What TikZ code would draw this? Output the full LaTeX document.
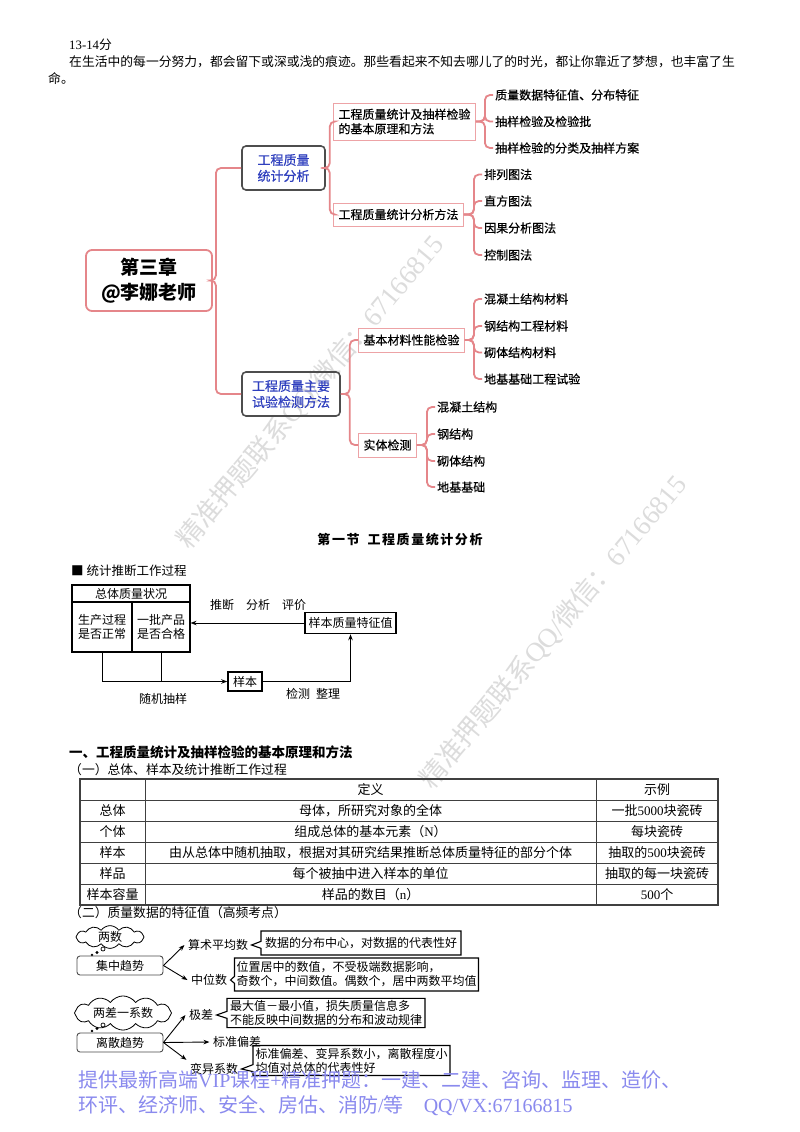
\documentclass[tikz,border=0pt]{standalone}
\usepackage{fontspec}
\setmainfont{Liberation Serif}
\newfontfamily\cjk{Noto Sans CJK SC}
\newfontfamily\cjkm[FakeBold=0.5]{Noto Sans CJK SC}
\usetikzlibrary{arrows.meta,shapes.symbols,shapes.callouts}
\definecolor{pinkline}{HTML}{E5868A}
\definecolor{pinkbox}{HTML}{EDA3A6}
\definecolor{boxgray}{HTML}{4D4D4D}
\definecolor{bluetxt}{HTML}{2F3FBE}
\definecolor{footerc}{HTML}{8A8AEE}
\definecolor{wmc}{HTML}{DCDCDC}
\newcommand{\Lat}[1]{{\rmfamily #1}}
\begin{document}
\begin{tikzpicture}[x=1pt,y=-1pt,
  font=\cjk\fontsize{12}{14.5}\selectfont,
  conn/.style={draw=pinkline,line width=1.8pt,rounded corners=5pt},
  leaf/.style={anchor=west,inner sep=2pt,font=\cjkm\fontsize{12}{14.5}\selectfont},
  sbox/.style={draw=pinkbox,line width=0.9pt,anchor=west,align=left,inner xsep=5pt,inner ysep=2pt,font=\cjkm\fontsize{12}{14.5}\selectfont},
  mbox/.style={draw=boxgray,line width=1.6pt,rounded corners=4pt,text=bluetxt,align=center,font=\cjkm\fontsize{13}{16}\selectfont},
  fbox/.style={draw,line width=1.1pt,align=center,inner sep=1pt},
  arr/.style={-{Stealth[length=6pt,width=4.5pt]},line width=0.9pt},
  callnode/.style={rectangle callout,draw,line width=1.1pt,align=left,inner sep=2pt,callout pointer width=7pt,font=\cjk\fontsize{12}{14}\selectfont},
  cloudn/.style={cloud,draw,line width=0.8pt,cloud puffs=12,cloud puff arc=110,aspect=3.6,inner sep=0pt},
  wm/.style={text=wmc,rotate=50,anchor=east,font=\cjk\fontsize{27}{27}\selectfont},
  tline/.style={line width=0.9pt,black!75},
  tcell/.style={font=\cjk\fontsize{13}{15}\selectfont,inner sep=0pt},
  rbox/.style={draw=black!70,line width=0.9pt,rounded corners=3pt,minimum width=86pt,minimum height=19pt}
]
\fill[white] (0,0) rectangle (800,1132);
\useasboundingbox (0,0) rectangle (800,1132);

% watermarks
\node[wm] (wm1) at (440,237) {精准押题联系\Lat{QQ/}微信：\Lat{67166815}};
\node[wm] (wm2) at (683,477) {精准押题联系\Lat{QQ/}微信：\Lat{67166815}};

% top text
\node[anchor=west,inner sep=0pt,font=\cjk\fontsize{12.8}{15}\selectfont] (t0) at (69,45) {\Lat{13-14}分};
\node[anchor=west,inner sep=0pt,font=\cjk\fontsize{12.8}{15}\selectfont] (t1) at (69,62) {在生活中的每一分努力，都会留下或深或浅的痕迹。那些看起来不知去哪儿了的时光，都让你靠近了梦想，也丰富了生};
\node[anchor=west,inner sep=0pt,font=\cjk\fontsize{12.8}{15}\selectfont] (t2) at (48,79) {命。};

% mind map
\node[draw=pinkline,line width=1.8pt,rounded corners=6pt,minimum width=126pt,minimum height=61pt,align=center,font=\cjk\bfseries\fontsize{19}{25}\selectfont] (root) at (149,280.5) {第三章\\@李娜老师};
\node[mbox,minimum width=83pt,minimum height=44pt] (A) at (283.5,168) {工程质量\\统计分析};
\node[mbox,minimum width=98pt,minimum height=44pt] (B) at (291,394) {工程质量主要\\试验检测方法};
\node[sbox,minimum height=37pt] (A1) at (333,121.5) {工程质量统计及抽样检验\\的基本原理和方法};
\node[sbox,minimum height=23pt] (A2) at (333,214.5) {工程质量统计分析方法};
\node[sbox,minimum height=24pt] (B1) at (358,340) {基本材料性能检验};
\node[sbox,minimum height=24pt] (B2) at (358,445) {实体检测};

\node[leaf] (a11) at (493,95) {质量数据特征值、分布特征};
\node[leaf] (a12) at (493,121.5) {抽样检验及检验批};
\node[leaf] (a13) at (493,148) {抽样检验的分类及抽样方案};
\node[leaf] (a21) at (482,174.5) {排列图法};
\node[leaf] (a22) at (482,201) {直方图法};
\node[leaf] (a23) at (482,228) {因果分析图法};
\node[leaf] (a24) at (482,255) {控制图法};
\node[leaf] (b11) at (482,299) {混凝土结构材料};
\node[leaf] (b12) at (482,326) {钢结构工程材料};
\node[leaf] (b13) at (482,352.5) {砌体结构材料};
\node[leaf] (b14) at (482,379) {地基基础工程试验};
\node[leaf] (b21) at (435,407) {混凝土结构};
\node[leaf] (b22) at (435,434) {钢结构};
\node[leaf] (b23) at (435,461) {砌体结构};
\node[leaf] (b24) at (435,487) {地基基础};

\draw[conn] (root.east) -- ++(3,0) |- (A.west);
\draw[conn] (root.east) -- ++(3,0) |- (B.west);
\draw[conn] (A.east) -- ++(4,0) |- (A1.west);
\draw[conn] (A.east) -- ++(4,0) |- (A2.west);
\draw[conn] (B.east) -- ++(9,0) |- (B1.west);
\draw[conn] (B.east) -- ++(9,0) |- (B2.west);
\foreach \n in {a11,a12,a13} \draw[conn] (A1.east) -- ++(9,0) |- (\n.west);
\foreach \n in {a21,a22,a23,a24} \draw[conn] (A2.east) -- ++(10,0) |- (\n.west);
\foreach \n in {b11,b12,b13,b14} \draw[conn] (B1.east) -- ++(9,0) |- (\n.west);
\foreach \n in {b21,b22,b23,b24} \draw[conn] (B2.east) -- ++(10,0) |- (\n.west);

% section title
\node[font=\cjk\bfseries\fontsize{13}{15}\selectfont\addfontfeature{LetterSpace=12}] (sec) at (400,540) {第一节\hspace{8pt}工程质量统计分析};

% flow diagram
\node[anchor=west,inner sep=0pt,font=\cjk\fontsize{12.5}{14}\selectfont] (fdt) at (71,571) {■ 统计推断工作过程};
\node[fbox,minimum width=118pt,minimum height=17pt] (hdr) at (131,593.5) {总体质量状况};
\node[fbox,minimum width=60pt,minimum height=50pt] (c1) at (102,627) {生产过程\\是否正常};
\node[fbox,minimum width=58pt,minimum height=50pt] (c2) at (161,627) {一批产品\\是否合格};
\node[fbox,line width=1.5pt,minimum width=91pt,minimum height=21pt] (sq) at (350.5,623) {样本质量特征值};
\node[fbox,line width=1.5pt,minimum width=34pt,minimum height=19pt] (yb) at (245,681.5) {样本};
\draw[arr] (sq.west) -- (sq.west -| c2.east);
\draw[arr] (c1.south) |- (yb.west);
\draw[line width=0.9pt] (c2.south) -- (c2.south |- yb.west);
\draw[arr] (yb.east) -| (sq.south);
\node (l1) at (258,605) {推断\quad 分析\quad 评价};
\node (l2) at (163,699) {随机抽样};
\node (l3) at (313,694) {检测\enspace 整理};

% headings
\node[anchor=west,inner sep=0pt,font=\cjk\bfseries\fontsize{13.5}{15}\selectfont] (h1) at (69,752) {一、工程质量统计及抽样检验的基本原理和方法};
\node[anchor=west,inner sep=0pt,font=\cjk\fontsize{12.8}{15}\selectfont] (h2) at (69,770) {（一）总体、样本及统计推断工作过程};

% table
\draw[line width=1.2pt,black!75] (80,779) rectangle (718,905);
\foreach \y in {800,821,842,863,884} \draw[tline] (80,\y) -- (718,\y);
\draw[tline] (145,779) -- (145,905);
\draw[tline] (596,779) -- (596,905);
\node[tcell] (th2) at (370.5,789.5) {定义};
\node[tcell] (th3) at (657,789.5) {示例};
\node[tcell] (r1a) at (112.5,810.5) {总体};
\node[tcell] (r1b) at (370.5,810.5) {母体，所研究对象的全体};
\node[tcell] (r1c) at (657,810.5) {一批\Lat{5000}块瓷砖};
\node[tcell] (r2a) at (112.5,831.5) {个体};
\node[tcell] (r2b) at (370.5,831.5) {组成总体的基本元素（\Lat{N}）};
\node[tcell] (r2c) at (657,831.5) {每块瓷砖};
\node[tcell] (r3a) at (112.5,852.5) {样本};
\node[tcell] (r3b) at (370.5,852.5) {由从总体中随机抽取，根据对其研究结果推断总体质量特征的部分个体};
\node[tcell] (r3c) at (657,852.5) {抽取的\Lat{500}块瓷砖};
\node[tcell] (r4a) at (112.5,873.5) {样品};
\node[tcell] (r4b) at (370.5,873.5) {每个被抽中进入样本的单位};
\node[tcell] (r4c) at (657,873.5) {抽取的每一块瓷砖};
\node[tcell] (r5a) at (112.5,894.5) {样本容量};
\node[tcell] (r5b) at (370.5,894.5) {样品的数目（\Lat{n}）};
\node[tcell] (r5c) at (657,894.5) {\Lat{500}个};

\node[anchor=west,inner sep=0pt,font=\cjk\fontsize{12.8}{15}\selectfont] (h3) at (69,913) {（二）质量数据的特征值（高频考点）};

% bottom diagram
\node[cloudn,minimum width=68pt,minimum height=19pt] (cl1) at (110,937) {两数};
\node[circle,draw,line width=0.7pt,inner sep=0pt,minimum size=4pt] (bb1) at (103,949) {};
\node[circle,fill,inner sep=0pt,minimum size=3.2pt] (bb2) at (97,952.5) {};
\node[circle,fill,inner sep=0pt,minimum size=2.6pt] (bb3) at (92,955) {};
\node[rbox] (jz) at (120,965.5) {集中趋势};
\node (amean) at (218,945) {算术平均数};
\node (median) at (209,980) {中位数};
\node[callnode,minimum width=200pt,minimum height=24pt,callout absolute pointer={(amean.east)}] (co1) at (361,943) {数据的分布中心，对数据的代表性好};
\node[callnode,minimum width=243pt,minimum height=33pt,callout absolute pointer={(median.east)}] (co2) at (356.5,974.5) {位置居中的数值，不受极端数据影响，\\奇数个，中间数值。偶数个，居中两数平均值};
\draw[arr] (jz.east) -- (amean.west);
\draw[arr] (jz.east) -- (median.west);

\node[cloudn,minimum width=97pt,minimum height=19pt] (cl2) at (123,1013) {两差一系数};
\node[circle,draw,line width=0.7pt,inner sep=0pt,minimum size=4pt] (bb4) at (103,1025) {};
\node[circle,fill,inner sep=0pt,minimum size=3.2pt] (bb5) at (97,1028.5) {};
\node[circle,fill,inner sep=0pt,minimum size=2.6pt] (bb6) at (92,1031) {};
\node[rbox] (ls) at (120,1042.5) {离散趋势};
\node (range) at (201,1015) {极差};
\node (std) at (237,1042) {标准偏差};
\node (cv) at (214,1069) {变异系数};
\node[callnode,minimum width=198pt,minimum height=28pt,callout absolute pointer={(range.east)}] (co3) at (326,1013) {最大值－最小值，损失质量信息多\\不能反映中间数据的分布和波动规律};
\node[callnode,minimum width=197pt,minimum height=30pt,callout absolute pointer={(cv.east)}] (co4) at (351.5,1060.5) {标准偏差、变异系数小，离散程度小\\均值对总体的代表性好};
\draw[arr] (ls.east) -- (range.west);
\draw[arr] (ls.east) -- (std.west);
\draw[arr] (ls.east) -- (cv.north west);

% footer
\node[anchor=west,inner sep=0pt,text=footerc,font=\cjk\fontsize{20}{24}\selectfont] (ft1) at (78,1080) {提供最新高端\Lat{VIP}课程\Lat{+}精准押题：一建、二建、咨询、监理、造价、};
\node[anchor=west,inner sep=0pt,text=footerc,font=\cjk\fontsize{20}{24}\selectfont] (ft2) at (78,1106) {环评、经济师、安全、房估、消防\Lat{/}等\quad\Lat{QQ/VX:67166815}};
\end{tikzpicture}
\end{document}
